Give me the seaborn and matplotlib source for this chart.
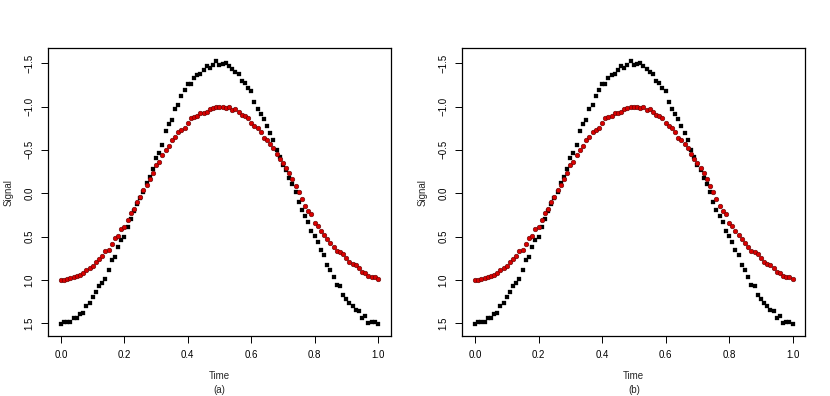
import numpy as np
import pandas as pd
import matplotlib
matplotlib.use("Agg")
import matplotlib.pyplot as plt
import seaborn as sns

# ---- data ----
time = [round(i * 0.01, 2) for i in range(101)]

black_signal = [1.51, 1.49, 1.48, 1.48, 1.44, 1.44, 1.39, 1.38, 1.30, 1.26,
                1.20, 1.14, 1.07, 1.04, 0.99, 0.88, 0.77, 0.73, 0.62, 0.54,
                0.50, 0.39, 0.30, 0.21, 0.12, 0.06, -0.02, -0.12, -0.19, -0.28,
                -0.41, -0.47, -0.56, -0.72, -0.80, -0.84, -0.97, -1.02, -1.12, -1.19,
                -1.26, -1.26, -1.33, -1.36, -1.38, -1.42, -1.47, -1.45, -1.48, -1.53,
                -1.48, -1.49, -1.50, -1.47, -1.43, -1.40, -1.37, -1.30, -1.27, -1.21,
                -1.18, -1.05, -0.97, -0.91, -0.86, -0.78, -0.69, -0.61, -0.50, -0.42,
                -0.33, -0.27, -0.18, -0.11, -0.02, 0.10, 0.19, 0.26, 0.33, 0.43,
                0.49, 0.56, 0.65, 0.71, 0.83, 0.89, 0.96, 1.06, 1.07, 1.17,
                1.22, 1.26, 1.30, 1.35, 1.36, 1.44, 1.41, 1.50, 1.48, 1.49, 1.51]

red_signal = [1.00, 1.00, 0.99, 0.98, 0.97, 0.95, 0.94, 0.92, 0.89, 0.86,
              0.84, 0.79, 0.76, 0.72, 0.66, 0.65, 0.59, 0.52, 0.49, 0.41,
              0.39, 0.31, 0.23, 0.18, 0.10, 0.04, -0.04, -0.09, -0.17, -0.23,
              -0.33, -0.36, -0.44, -0.50, -0.54, -0.61, -0.65, -0.71, -0.73, -0.75,
              -0.81, -0.87, -0.88, -0.89, -0.92, -0.93, -0.94, -0.97, -0.98, -0.99,
              -1.00, -0.99, -0.98, -0.99, -0.96, -0.97, -0.94, -0.90, -0.89, -0.87,
              -0.81, -0.78, -0.75, -0.71, -0.64, -0.61, -0.57, -0.52, -0.45, -0.39,
              -0.35, -0.29, -0.23, -0.16, -0.08, -0.02, 0.07, 0.15, 0.21, 0.24,
              0.34, 0.38, 0.43, 0.48, 0.53, 0.57, 0.62, 0.67, 0.68, 0.70,
              0.75, 0.79, 0.82, 0.83, 0.86, 0.91, 0.92, 0.95, 0.97, 0.97, 0.99]

x_ticks = [0.0, 0.2, 0.4, 0.6, 0.8, 1.0]
y_ticks = [-1.5, -1.0, -0.5, 0.0, 0.5, 1.0, 1.5]
panel_labels = ["(a)", "(b)"]

df_black = pd.DataFrame({"Time": time, "Signal": black_signal})
df_red = pd.DataFrame({"Time": time, "Signal": red_signal})

sns.set_style("ticks")
plt.rcParams["font.family"] = ["Liberation Sans", "DejaVu Sans"]

fig = plt.figure(figsize=(8.3, 3.96), dpi=100)
axes_rects = [[0.0582, 0.1515, 0.4125, 0.7266],
              [0.5570, 0.1515, 0.4133, 0.7266]]

FS = 7
for rect, lab in zip(axes_rects, panel_labels):
    ax = fig.add_axes(rect)
    sns.scatterplot(data=df_black, x="Time", y="Signal", ax=ax, marker="s",
                    s=10, color="black", edgecolor="black", linewidth=0.2, zorder=2)
    sns.scatterplot(data=df_red, x="Time", y="Signal", ax=ax, marker="o",
                    s=11, color="#d80000", edgecolor="#5a0000", linewidth=0.4, zorder=3)
    ax.set_xlim(-0.04, 1.04)
    ax.set_ylim(1.646, -1.672)
    ax.set_xticks(x_ticks)
    ax.set_xticklabels([f"{v:.1f}" for v in x_ticks])
    ax.set_yticks(y_ticks)
    ax.set_yticklabels([f"{v:.1f}".replace("-", "\u2212") for v in y_ticks],
                       rotation=90, va="center")
    ax.tick_params(axis="both", direction="out", length=5, width=0.7,
                   labelsize=FS, pad=5, color="black", labelcolor="black")
    for sp in ax.spines.values():
        sp.set_visible(True)
        sp.set_color("black")
        sp.set_linewidth(0.9)
    ax.set_xlabel("Time\n" + lab, fontsize=FS, linespacing=1.55, labelpad=8)
    ax.set_ylabel("Signal", fontsize=FS, labelpad=8)
    ax.grid(False)

fig.savefig("out.png", dpi=100, facecolor="white")
